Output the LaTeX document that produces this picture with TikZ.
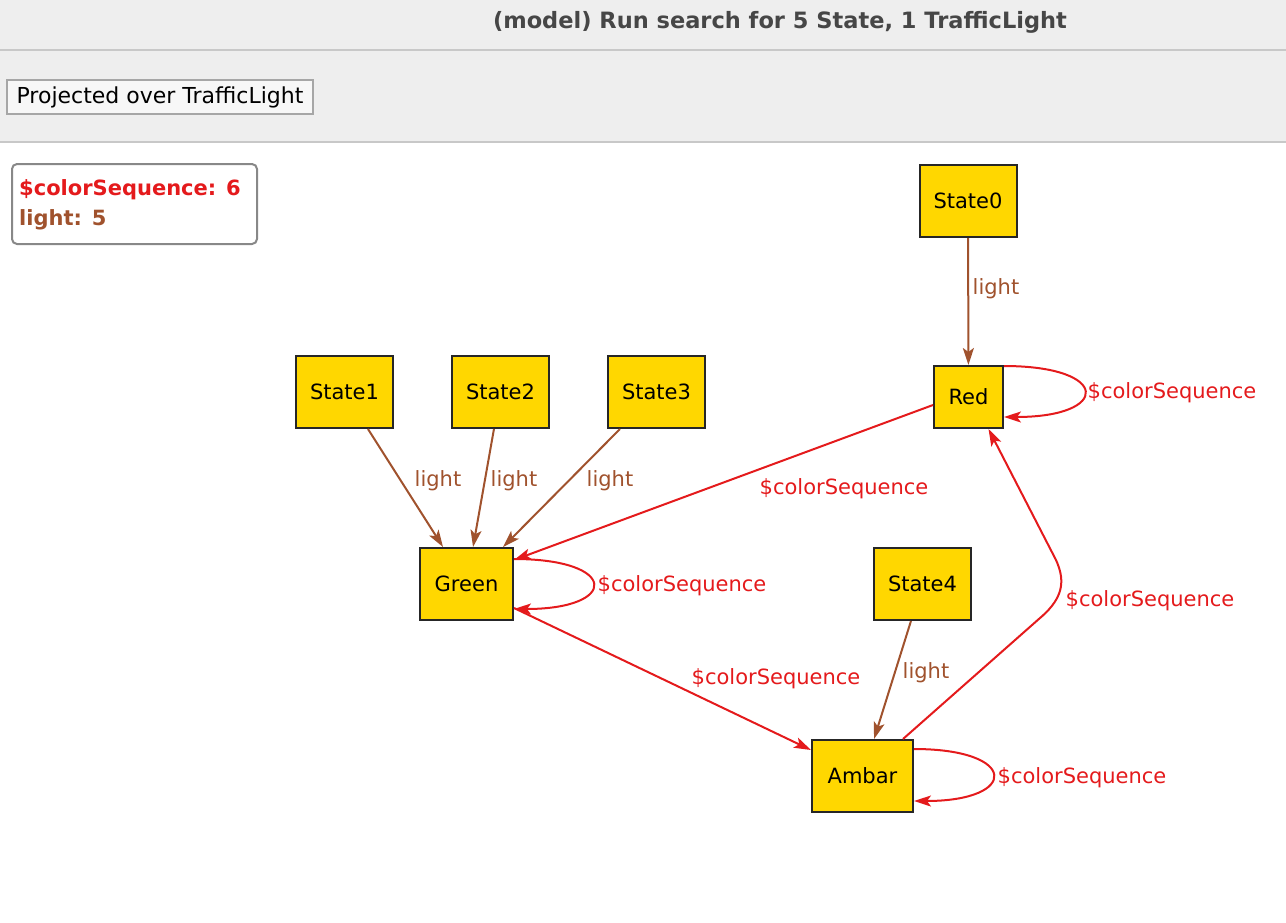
\documentclass[tikz,border=0pt]{standalone}
\usepackage{fontspec}
\setmainfont{DejaVu Sans}
\usetikzlibrary{positioning,arrows.meta}
\definecolor{atomgold}{RGB}{255,215,0}
\definecolor{lightbrown}{RGB}{160,82,45}
\definecolor{seqred}{RGB}{228,26,28}
\definecolor{panelgray}{RGB}{238,238,238}
\definecolor{rulegray}{RGB}{200,200,200}
\definecolor{titlegray}{RGB}{70,70,70}
\definecolor{legendgray}{RGB}{136,136,136}
\newcommand{\lblfont}{\fontsize{21pt}{25pt}\selectfont}

\begin{document}
\begin{tikzpicture}[x=1pt, y=-1pt,
            lightarrow/.style={->, draw=lightbrown, line width=2pt, >={Stealth[length=17pt, width=11pt, inset=4pt]}},
            seqarrow/.style={->, draw=seqred, line width=2pt, >={Stealth[length=17pt, width=11pt, inset=4pt]}}]
            % A box style
            \tikzstyle{atomnode} = [draw=black!85, fill=atomgold, line width=2pt, rectangle, text centered, minimum width=97pt, minimum height=72pt, inner sep=0pt, font=\lblfont]
            \tikzstyle{lightlabel} = [text=lightbrown, inner sep=0pt, font=\lblfont]
            \tikzstyle{seqlabel} = [text=seqred, inner sep=0pt, font=\lblfont]
            \useasboundingbox (0,0) rectangle (1286,922);

            % Window header and toolbar
            \fill[panelgray] (0,0) rectangle (1286,142);
            \draw[rulegray, line width=1.5pt] (0,50) -- (1286,50);
            \draw[rulegray, line width=1.5pt] (0,142) -- (1286,142);
            \node (title) [text=titlegray, font=\fontsize{22.5pt}{27pt}\selectfont\bfseries] at (780,22) {(model) Run search for 5 State, 1 TrafficLight};
            \node (button) [draw=black!35, fill=black!3, line width=1.5pt, minimum width=306pt, minimum height=34pt, inner sep=0pt, font=\fontsize{22pt}{26pt}\selectfont] at (160,97) {Projected over TrafficLight};

            % Legend
            \node (legend) [draw=legendgray, line width=2pt, rounded corners=5pt, minimum width=245pt, minimum height=80pt] at (134.5,204) {};
            \node (seqcount) [anchor=west, text=seqred, inner sep=0pt, font=\lblfont\bfseries] at (19,190) {\$colorSequence: 6};
            \node (lightcount) [anchor=west, text=lightbrown, inner sep=0pt, font=\lblfont\bfseries] at (19,220) {light: 5};

            % Define the nodes
            \node (State0) [atomnode] at (968,201) {State0};
            \node (Red) [atomnode, minimum width=69pt, minimum height=62pt] at (968.5,397) {Red};
            \node (State1) [atomnode] at (344.5,392) {State1};
            \node (State2) [atomnode, right=57pt of State1] {State2};
            \node (State3) [atomnode, right=57pt of State2] {State3};
            \node (Green) [atomnode, minimum width=93pt] at (466.5,584) {Green};
            \node (State4) [atomnode] at (922.5,584) {State4};
            \node (Ambar) [atomnode, minimum width=101pt] at (862.5,776) {Ambar};

            % Draw the light arrows
            \draw [lightarrow] (State0) -- (Red);
            \draw [lightarrow] (State1) -- (Green);
            \draw [lightarrow] (State2) -- (Green);
            \draw [lightarrow] (State3) -- (Green);
            \draw [lightarrow] (State4) -- (Ambar);
            \node (light0) [lightlabel] at (996,289) {light};
            \node (light1) [lightlabel] at (438,481) {light};
            \node (light2) [lightlabel] at (514,481) {light};
            \node (light3) [lightlabel] at (610,481) {light};
            \node (light4) [lightlabel] at (926,673) {light};

            % Draw the colorSequence arrows
            \draw [seqarrow] ([yshift=-8pt]Red.west) -- ([yshift=24pt]Green.east);
            \draw [seqarrow] ([yshift=-24pt]Green.east) -- ([yshift=26pt]Ambar.west);
            \draw [seqarrow] ([xshift=-11pt]Ambar.north east) -- (1040,618) .. controls (1066,596) and (1064,578) .. (1056,560) -- ([xshift=20pt]Red.south);
            \draw [seqarrow] ([yshift=-1pt]Red.north east) .. controls +(107,0) and +(107,0) .. ([yshift=12pt]Red.south east);
            \draw [seqarrow] ([yshift=-12pt]Green.north east) .. controls +(105,0) and +(105,0) .. ([yshift=12pt]Green.south east);
            \draw [seqarrow] ([yshift=-10pt]Ambar.north east) .. controls +(105,0) and +(105,0) .. ([yshift=12pt]Ambar.south east);
            \node (seqRG) [seqlabel] at (844,489) {\$colorSequence};
            \node (seqGA) [seqlabel] at (776,679) {\$colorSequence};
            \node (seqAR) [seqlabel] at (1150,601) {\$colorSequence};
            \node (seqRR) [seqlabel] at (1172,393) {\$colorSequence};
            \node (seqGG) [seqlabel] at (682,586) {\$colorSequence};
            \node (seqAA) [seqlabel] at (1082,778) {\$colorSequence};
        \end{tikzpicture}
\end{document}
